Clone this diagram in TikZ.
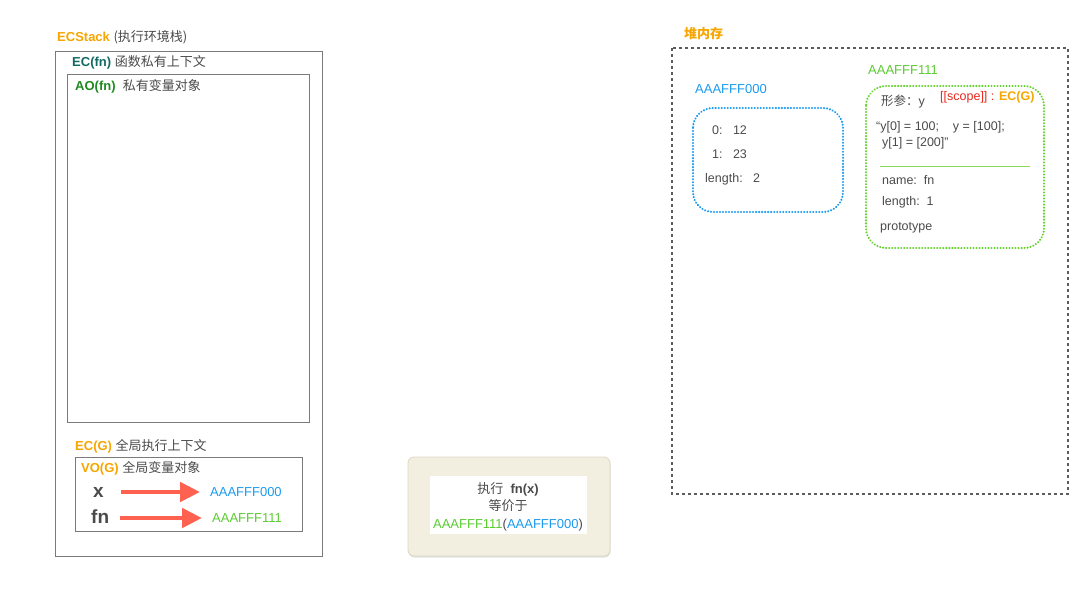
\documentclass[tikz,border=0pt]{standalone}
\usepackage{fontspec}
\setmainfont{Liberation Sans}
\newfontfamily\cjk{Noto Sans CJK SC}
\usetikzlibrary{arrows.meta,shadows}
\definecolor{orng}{HTML}{F7A500}
\definecolor{txtgray}{HTML}{4A4A4A}
\definecolor{boxgray}{HTML}{7A7A7A}
\definecolor{teal}{HTML}{126B63}
\definecolor{aogreen}{HTML}{1F8A1F}
\definecolor{blu}{HTML}{1A9BEF}
\definecolor{grn}{HTML}{5CCB32}
\definecolor{dotgrn}{HTML}{66D12F}
\definecolor{arrred}{HTML}{FF6150}
\definecolor{beige}{HTML}{F2EFE1}
\definecolor{beigeline}{HTML}{DDD8C2}
\definecolor{scopered}{HTML}{E8281E}
\begin{document}
\begin{tikzpicture}[x=1pt,y=-1pt,
  every node/.style={inner sep=0pt, font=\fontsize{13}{15}\selectfont, text=txtgray},
  lbl/.style={anchor=west, text height=12pt, text depth=3pt},
  small/.style={lbl, font=\fontsize{12.5}{15}\selectfont},
  framebox/.style={draw=boxgray, line width=0.8pt},
  bigarrow/.style={draw=arrred, line width=4.8pt, -{Triangle[length=20pt,width=19pt]}},
  heapbox/.style={draw=txtgray!90, line width=1.4pt, dash pattern=on 3pt off 3pt},
  objblue/.style={draw=blu, line width=2.3pt, dash pattern=on 0.01pt off 3pt, line cap=round, rounded corners=20pt},
  objgreen/.style={draw=dotgrn, line width=2.3pt, dash pattern=on 0.01pt off 3pt, line cap=round, rounded corners=20pt},
  varlbl/.style={anchor=west, text height=14pt, text depth=4pt, font=\fontsize{19}{21}\selectfont\bfseries}
]
\useasboundingbox (0,0) rectangle (1080,608);

% ---------------- ECStack ----------------
\node[lbl] (ecstack) at (57,37) {\textbf{\color{orng}ECStack} {\cjk (执行环境栈)}};
\draw[framebox] (55,51) rectangle (322,556);
\node[lbl] (ecfn) at (72,62) {\textbf{\color{teal}EC(fn)} {\cjk 函数私有上下文}};
\draw[framebox] (67,74) rectangle (309,422);
\node[lbl] (aofn) at (75,86) {\textbf{\color{aogreen}AO(fn)}\ \ {\cjk 私有变量对象}};

\node[lbl] (ecg) at (75,446) {\textbf{\color{orng}EC(G)} {\cjk 全局执行上下文}};
\draw[framebox] (75,457) rectangle (302,531);
\node[lbl] (vog) at (81,468) {\textbf{\color{orng}VO(G)} {\cjk 全局变量对象}};

\node[varlbl] (xv) at (93,492) {x};
\node[lbl, text=blu] (addr0) at (210,492) {AAAFFF000};
\node[varlbl] (fnv) at (91,518) {fn};
\node[lbl, text=grn] (addr1) at (212,518) {AAAFFF111};
\draw[bigarrow, shorten <=17pt, shorten >=10pt] (xv.east) -- (addr0.west);
\draw[bigarrow, shorten <=11pt, shorten >=10pt] (fnv.east) -- (addr1.west);

% ---------------- middle note ----------------
\fill[beige, rounded corners=6pt, drop shadow={shadow xshift=0.5pt, shadow yshift=-1.5pt, opacity=0.25}] (408,457) rectangle (610,556);
\draw[beigeline, line width=0.8pt, rounded corners=6pt] (408,457) rectangle (610,556);
\fill[white] (430,476) rectangle (587,534);
\node[align=center, font=\fontsize{13}{17.5}\selectfont] (note) at (508,506.5)
  {{\cjk 执行}\ \ \textbf{fn(x)}\\ {\cjk 等价于}\\ {\color{grn}AAAFFF111}({\color{blu}AAAFFF000})};

% ---------------- heap ----------------
\node[lbl] (heap) at (684,34) {\cjk\bfseries\color{orng}堆内存};
\draw[heapbox] (672,48) rectangle (1068,494);

\node[lbl, text=blu] (h0) at (695,89) {AAAFFF000};
\draw[objblue] (693,108) rectangle (843,212);
\node[small] (k0) at (712,130) {0:\ \ \ 12};
\node[small] (k1) at (712,154) {1:\ \ \ 23};
\node[small] (klen) at (705,178) {length:\ \ \ 2};

\node[lbl, text=grn] (h1) at (868,70) {AAAFFF111};
\draw[objgreen] (866,86) rectangle (1044,248);
\node[small] (param) at (881,101) {{\cjk 形参：}y};
\node[lbl, font=\fontsize{12.5}{15}\selectfont] (scope) at (940,96) {{\color{scopered}[[scope]] :} \textbf{\color{orng}EC(G)}};
\node[small] (body1) at (876,126) {“y[0] = 100;\ \ \ \ y = [100];};
\node[small] (body2) at (882,142) {y[1] = [200]”};
\draw[dotgrn!80, line width=0.7pt] (880,166) -- (1030,166);
\node[small] (fname) at (882,180) {name:\ \ fn};
\node[small] (flen) at (882,201) {length:\ \ 1};
\node[small] (proto) at (880,226) {prototype};
\end{tikzpicture}
\end{document}
